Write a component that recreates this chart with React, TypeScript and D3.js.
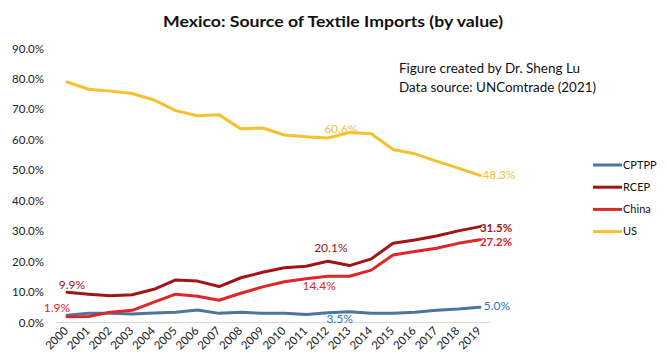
import * as d3 from "d3";

// Mexico textile imports, share by source (%)
const years = d3.range(2000, 2020);
const cptpp = [2.4, 3.0, 3.0, 2.8, 3.1, 3.4, 4.1, 3.0, 3.4, 3.0, 3.0, 2.6, 3.2, 3.5, 3.0, 3.0, 3.4, 4.0, 4.4, 5.0];
const rcep = [9.9, 9.3, 8.8, 9.1, 10.9, 14.0, 13.6, 11.8, 14.7, 16.5, 18.0, 18.5, 20.1, 18.7, 20.9, 26.0, 27.1, 28.4, 30.1, 31.5];
const china = [1.9, 2.0, 3.4, 4.0, 6.7, 9.3, 8.6, 7.3, 9.6, 11.7, 13.4, 14.4, 15.2, 15.2, 17.2, 22.2, 23.3, 24.4, 26.0, 27.2];
const us = [79.0, 76.6, 76.0, 75.2, 73.1, 69.6, 67.9, 68.2, 63.6, 63.9, 61.6, 61.0, 60.6, 62.4, 62.0, 56.8, 55.4, 53.0, 50.7, 48.3];
const yTicks = [0, 10, 20, 30, 40, 50, 60, 70, 80, 90];

const W = 667;
const H = 364;
const font = "Lato, 'Open Sans', sans-serif";

const series = [
  { name: "CPTPP", values: cptpp, color: "#4a76a0", label: "#2e75b6" },
  { name: "RCEP", values: rcep, color: "#a01515", label: "#a01515" },
  { name: "China", values: china, color: "#e0262a", label: "#d9262a" },
  { name: "US", values: us, color: "#f3c22c", label: "#efc040" },
];

// which points get a value label (series name, year), plus nudge
const labels = [
  { s: "RCEP", year: 2000, dx: 5, dy: -8 },
  { s: "China", year: 2000, dx: -10, dy: -9 },
  { s: "RCEP", year: 2012, dx: 3, dy: -14 },
  { s: "China", year: 2011, dx: 13, dy: 7 },
  { s: "CPTPP", year: 2013, dx: -10, dy: 7 },
  { s: "US", year: 2012, dx: 13, dy: -9 },
  { s: "US", year: 2019, dx: 19, dy: -1 },
  { s: "CPTPP", year: 2019, dx: 17, dy: -1 },
  { s: "RCEP", year: 2019, dx: 16, dy: 1.5, bold: true },
  { s: "China", year: 2019, dx: 16, dy: 2.5, bold: true },
];

export default function App() {
  const x = d3.scaleLinear().domain([2000, 2019]).range([67, 480]);
  const y = d3.scaleLinear().domain([0, 90]).range([322.5, 48.5]);
  const line = d3
    .line<number>()
    .x((_, i) => x(years[i]))
    .y((d) => y(d));

  return (
    <svg
      width={W}
      height={H}
      style={{ position: "absolute", left: 0, top: 0, background: "#fff" }}
      fontFamily={font}
    >
      <text
        x={333}
        y={27}
        textAnchor="middle"
        fontSize={16}
        fontWeight="bold"
        fill="#111"
        textLength={340}
        lengthAdjust="spacingAndGlyphs"
      >
        Mexico: Source of Textile Imports (by value)
      </text>

      <text x={399} y={73} fontSize={13.5} fill="#111" textLength={181} lengthAdjust="spacingAndGlyphs">
        Figure created by Dr. Sheng Lu
      </text>
      <text x={399} y={92} fontSize={13.5} fill="#111" textLength={197} lengthAdjust="spacingAndGlyphs">
        Data source: UNComtrade (2021)
      </text>

      {yTicks.map((t) => (
        <text key={t} x={44} y={y(t)} dy="0.35em" textAnchor="end" fontSize={11.5} fill="#222">
          {t.toFixed(1)}%
        </text>
      ))}

      <line x1={56} x2={490} y1={y(0)} y2={y(0)} stroke="#d9d9d9" strokeWidth={1} />

      {years.map((yr) => (
        <text
          key={yr}
          transform={`translate(${x(yr) + 2},${y(0) + 9}) rotate(-45)`}
          textAnchor="end"
          fontSize={11.5}
          fill="#222"
        >
          {yr}
        </text>
      ))}

      {series.map((s) => (
        <path
          key={s.name}
          d={line(s.values) ?? ""}
          fill="none"
          stroke={s.color}
          strokeWidth={3}
          strokeLinejoin="round"
          strokeLinecap="round"
        />
      ))}

      {labels.map((l, i) => {
        const s = series.find((d) => d.name === l.s)!;
        const v = s.values[years.indexOf(l.year)];
        return (
          <text
            key={i}
            x={x(l.year) + l.dx}
            y={y(v) + l.dy}
            dy="0.35em"
            textAnchor="middle"
            fontSize={l.bold ? 11.5 : 12}
            fontWeight={l.bold ? "bold" : "normal"}
            fill={s.label}
          >
            {v.toFixed(1)}%
          </text>
        );
      })}

      {series.map((s, i) => {
        const ly = 165 + i * 22.2;
        return (
          <g key={s.name}>
            <line x1={593} x2={622} y1={ly} y2={ly} stroke={s.color} strokeWidth={3} />
            <text x={623} y={ly} dy="0.35em" fontSize={11} fill="#111">
              {s.name}
            </text>
          </g>
        );
      })}
    </svg>
  );
}
